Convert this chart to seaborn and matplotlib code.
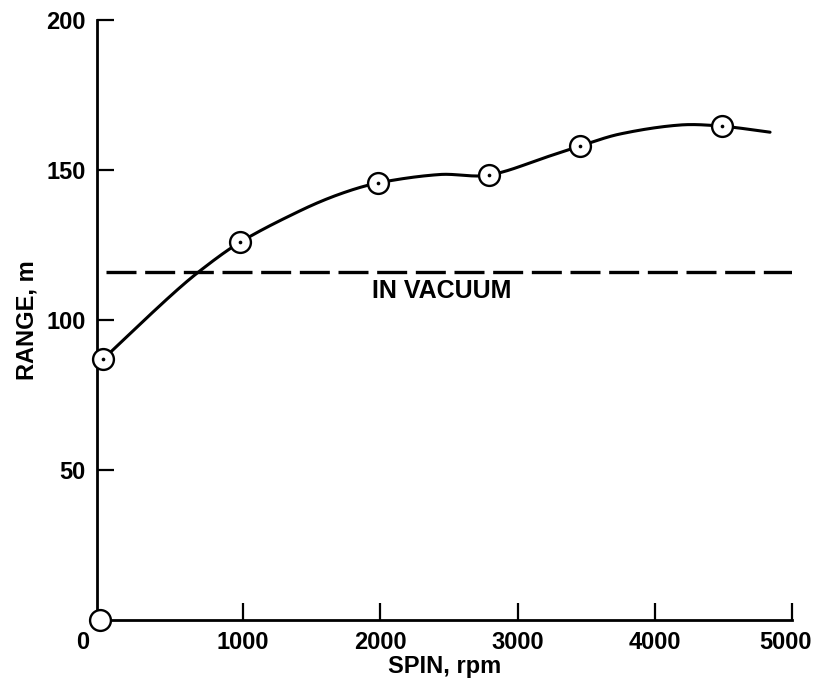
import numpy as np
import pandas as pd
import matplotlib
matplotlib.use("Agg")
import matplotlib.pyplot as plt
from matplotlib.transforms import ScaledTranslation
import seaborn as sns

# ---- data ----
marker_spin = [-20, 980, 1985, 2790, 3455, 4490]
marker_range = [87.0, 126.0, 145.7, 148.3, 158.0, 164.6]
origin_spin = [-44]
origin_range = [0.0]
curve_spin = [-20, 445, 685, 980, 1414, 1705, 1985, 2434, 2790, 3236, 3455, 3746, 4184, 4490, 4840]
curve_range = [87.0, 107.0, 116.4, 126.0, 136.4, 142.0, 145.7, 148.5, 148.3, 154.7, 158.0, 162.0, 165.0, 164.6, 162.6]
vacuum_range = 116.1
x_ticks = [0, 1000, 2000, 3000, 4000, 5000]
x_tick_labels = ["0", "1000", "2000", "3000", "4000", "5000"]
y_ticks = [50, 100, 150, 200]
y_tick_labels = ["50", "100", "150", "200"]


def smooth(xk, yk, n=600):
    xk = np.asarray(xk, float)
    yk = np.asarray(yk, float)
    m = np.empty_like(yk)
    m[1:-1] = (yk[2:] - yk[:-2]) / (xk[2:] - xk[:-2])
    m[0] = (yk[1] - yk[0]) / (xk[1] - xk[0])
    m[-1] = (yk[-1] - yk[-2]) / (xk[-1] - xk[-2])
    xs = np.linspace(xk[0], xk[-1], n)
    idx = np.clip(np.searchsorted(xk, xs) - 1, 0, len(xk) - 2)
    h = xk[idx + 1] - xk[idx]
    t = (xs - xk[idx]) / h
    h00 = 2 * t**3 - 3 * t**2 + 1
    h10 = t**3 - 2 * t**2 + t
    h01 = -2 * t**3 + 3 * t**2
    h11 = t**3 - t**2
    ys = h00 * yk[idx] + h10 * h * m[idx] + h01 * yk[idx + 1] + h11 * h * m[idx + 1]
    return xs, ys


sns.set_theme(style="ticks")
plt.rcParams['font.family'] = ['Liberation Sans', 'DejaVu Sans']
plt.rcParams['font.weight'] = 'bold'
plt.rcParams['axes.labelcolor'] = 'black'
plt.rcParams['text.color'] = 'black'

fig = plt.figure(figsize=(8.16, 6.82), dpi=100)
fig.patch.set_facecolor("white")
ax = fig.add_axes([97 / 816, 1 - 620 / 682, (792 - 97) / 816, 600 / 682])
ax.set_facecolor("white")

xs, ys = smooth(curve_spin, curve_range)
curve_df = pd.DataFrame({"spin": xs, "range": ys})
sns.lineplot(data=curve_df, x="spin", y="range", ax=ax, color="black",
             linewidth=2.2, sort=False, estimator=None, zorder=2)

vac_df = pd.DataFrame({"spin": [0, 5000], "range": [vacuum_range, vacuum_range]})
sns.lineplot(data=vac_df, x="spin", y="range", ax=ax, color="black",
             linewidth=2.4, linestyle=(0, (9.0, 2.6)), estimator=None, zorder=2)

mk_df = pd.DataFrame({"spin": marker_spin, "range": marker_range})
sns.scatterplot(data=mk_df, x="spin", y="range", ax=ax, marker="o", s=15 ** 2,
                facecolor="white", edgecolor="black", linewidth=1.7, zorder=3,
                clip_on=False)
sns.scatterplot(data=mk_df, x="spin", y="range", ax=ax, marker="o", s=7,
                color="black", edgecolor="black", linewidth=0, zorder=4,
                clip_on=False)
or_df = pd.DataFrame({"spin": origin_spin, "range": origin_range})
sns.scatterplot(data=or_df, x="spin", y="range", ax=ax, marker="o", s=15 ** 2,
                facecolor="white", edgecolor="black", linewidth=1.7, zorder=5,
                clip_on=False)

ax.text(1939, 109.7, "IN VACUUM", ha="left", va="center", fontsize=18,
        fontweight="bold", color="black")

ax.set_xlim(-66, 5000)
ax.set_ylim(0, 200)
ax.set_xticks(x_ticks)
ax.set_xticklabels(x_tick_labels)
ax.set_yticks(y_ticks)
ax.set_yticklabels(y_tick_labels)
ax.tick_params(axis="both", direction="in", length=12, width=1.6, colors="black",
               labelsize=17)
ax.tick_params(axis="x", pad=8)
ax.tick_params(axis="y", pad=8)
for lab in ax.get_xticklabels() + ax.get_yticklabels():
    lab.set_fontweight("bold")
    lab.set_color("black")
ax.xaxis.get_major_ticks()[0].tick1line.set_visible(False)
xl = ax.get_xticklabels()
xl[0].set_transform(xl[0].get_transform() + ScaledTranslation(-23 / 100, 0, fig.dpi_scale_trans))
xl[-1].set_transform(xl[-1].get_transform() + ScaledTranslation(-6 / 100, 0, fig.dpi_scale_trans))

sns.despine(ax=ax)
for s in ["left", "bottom"]:
    ax.spines[s].set_linewidth(2.0)
    ax.spines[s].set_color("black")

ax.set_xlabel("SPIN, rpm", fontsize=17, fontweight="bold", labelpad=1, color="black")
ax.set_ylabel("RANGE, m", fontsize=17, fontweight="bold", labelpad=6, color="black")

fig.savefig("out.png", dpi=100, facecolor="white")
